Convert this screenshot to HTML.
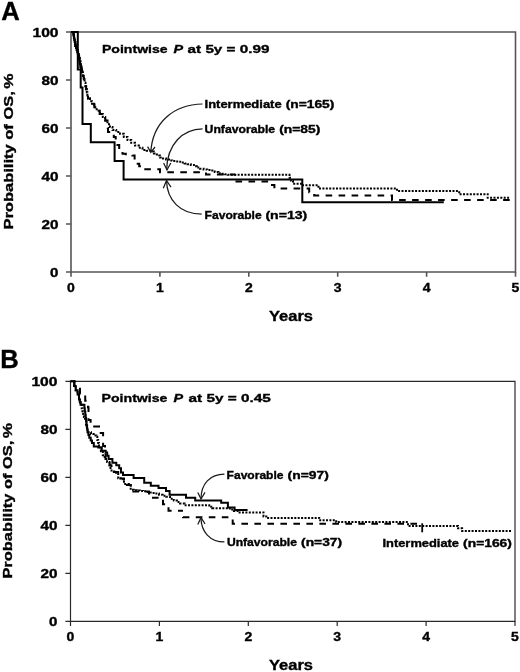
<!DOCTYPE html>
<html><head><meta charset="utf-8"><style>
html,body{margin:0;padding:0;background:#fff;}
svg{display:block;font-family:"Liberation Sans", sans-serif;font-weight:bold;fill:#000;will-change:transform;}
text{stroke:#000;stroke-width:0.35px;}
</style></head><body>
<svg width="520" height="672" viewBox="0 0 520 672">
<rect width="520" height="672" fill="#fff"/>
<g transform="translate(0,0)">
<text x="1.2" y="20.2" font-size="25.6" text-anchor="start">A</text>
<path d="M71.0 32.0 H515.5 V272.0 H71.0 Z" fill="none" stroke="#555" stroke-width="1.6"/>
<path d="M66.0 272.0 H71.0 M66.0 224.0 H71.0 M66.0 176.0 H71.0 M66.0 128.0 H71.0 M66.0 80.0 H71.0 M66.0 32.0 H71.0 M71.0 272.0 V276.8 M159.9 272.0 V276.8 M248.8 272.0 V276.8 M337.7 272.0 V276.8 M426.6 272.0 V276.8 M515.5 272.0 V276.8" stroke="#555" stroke-width="1.6" fill="none"/>
<text x="50.1" y="277.2" font-size="12.0" text-anchor="start" textLength="8.4" lengthAdjust="spacingAndGlyphs">0</text>
<text x="41.5" y="229.2" font-size="12.0" text-anchor="start" textLength="17.0" lengthAdjust="spacingAndGlyphs">20</text>
<text x="41.5" y="181.2" font-size="12.0" text-anchor="start" textLength="17.0" lengthAdjust="spacingAndGlyphs">40</text>
<text x="41.5" y="133.2" font-size="12.0" text-anchor="start" textLength="17.0" lengthAdjust="spacingAndGlyphs">60</text>
<text x="41.5" y="85.2" font-size="12.0" text-anchor="start" textLength="17.0" lengthAdjust="spacingAndGlyphs">80</text>
<text x="32.5" y="37.2" font-size="12.0" text-anchor="start" textLength="26.0" lengthAdjust="spacingAndGlyphs">100</text>
<text x="67.1" y="291.6" font-size="12.0" text-anchor="start" textLength="7.8" lengthAdjust="spacingAndGlyphs">0</text>
<text x="156.0" y="291.6" font-size="12.0" text-anchor="start" textLength="7.8" lengthAdjust="spacingAndGlyphs">1</text>
<text x="244.9" y="291.6" font-size="12.0" text-anchor="start" textLength="7.8" lengthAdjust="spacingAndGlyphs">2</text>
<text x="333.8" y="291.6" font-size="12.0" text-anchor="start" textLength="7.8" lengthAdjust="spacingAndGlyphs">3</text>
<text x="422.7" y="291.6" font-size="12.0" text-anchor="start" textLength="7.8" lengthAdjust="spacingAndGlyphs">4</text>
<text x="511.6" y="291.6" font-size="12.0" text-anchor="start" textLength="7.8" lengthAdjust="spacingAndGlyphs">5</text>
<text x="269.0" y="320.9" font-size="14.6" text-anchor="start" textLength="44.0" lengthAdjust="spacingAndGlyphs">Years</text>
<text transform="translate(12.7,229.6) rotate(-90)" x="0" y="0" font-size="13.2" textLength="138.4" lengthAdjust="spacingAndGlyphs">Probability of OS,</text>
<text transform="translate(12.7,88.8) rotate(-90)" x="0" y="0" font-size="13.2" textLength="15.2" lengthAdjust="spacingAndGlyphs">%</text>
<text x="102.0" y="53.2" font-size="11.8" text-anchor="start" textLength="65.6" lengthAdjust="spacingAndGlyphs">Pointwise</text><text x="173.6" y="53.2" font-size="11.8" text-anchor="start" textLength="9.6" lengthAdjust="spacingAndGlyphs" font-style="italic">P</text><text x="187.6" y="53.2" font-size="11.8" text-anchor="start" textLength="81.8" lengthAdjust="spacingAndGlyphs">at 5y = 0.99</text>
<path d="M71.0 32.0 H73.2 H73.5 V34.0 H73.7 V36.0 H74.0 V38.0 H74.3 V40.0 H74.7 V41.9 H75.1 V43.8 H75.4 V45.8 H76.1 V47.9 H76.7 V50.0 H77.3 V52.1 H78.0 V54.2 H78.5 V56.6 H79.1 V59.1 H79.6 V61.5 H80.1 V64.1 H80.6 V66.7 H81.1 V68.8 H81.7 V70.9 H82.2 V73.0" fill="none" stroke="#000" stroke-width="2.2"/><path d="M71.0 32.0 H77.8 V69.4 H80.7 V87.5 H82.5 V124.0 H90.8 V142.3 H114.6 V161.0 H123.6 V179.4 H302.3 V202.2 H443.8" fill="none" stroke="#000" stroke-width="2"/><path d="M71.0 32.0 H73.2 H73.6 V35.0 H74.0 V38.0 H74.7 V41.9 H75.4 V45.8 H76.7 V50.0 H78.0 V54.2 H78.8 V57.9 H79.6 V61.5 H80.6 V66.7 H81.3 V69.5 H82.0 V72.3 H82.9 V75.8 H83.8 V79.2 H84.6 V82.7 H85.5 V86.2 H86.1 V89.3 H86.8 V92.3 H87.4 V95.4 H88.0 V98.5 H90.0 V101.2 H92.0 V103.8 H94.3 V107.3 H96.7 V110.8 H99.8 V113.9 H102.8 V117.0 H105.2 V120.6 H107.5 V124.2 H107.8 V128.1 H108.0 V131.9 H110.9 V134.4 H113.8 V136.9 H115.7 V140.9 H117.5 V145.0 H119.2 V147.9 H120.8 V150.9 H122.5 V153.8 H125.8 V154.3 H129.0 V154.9 H132.3 V155.4 H134.6 V158.5 H136.1 V161.2 H137.7 V163.8 H139.2 V166.2 H143.0 V169.2 H160.0 V172.2 H206.0 V174.6 H235.2" fill="none" stroke="#000" stroke-width="2" stroke-dasharray="6.6 6.4" stroke-dashoffset="-2.5"/><path d="M235.2 174.6 V181.6 H270 V185.1 H274.4 V188.5 H309.2 V192.3 H314.2 V195.5 H392 V200 H511.5" fill="none" stroke="#000" stroke-width="2" stroke-dasharray="6.6 6.4" stroke-dashoffset="5.70"/><path d="M71.0 32.0 H73.2 H73.6 V35.0 H74.0 V38.0 H74.7 V41.9 H75.4 V45.8 H76.7 V50.0 H78.0 V54.2 H78.8 V57.9 H79.6 V61.5 H80.6 V66.7 H81.3 V69.5 H82.0 V72.3 H82.9 V75.8 H83.8 V79.2 H84.6 V82.7 H85.5 V86.2 H86.1 V89.3 H86.8 V92.3 H87.4 V95.4 H88.0 V98.5 H90.0 V101.2 H92.0 V103.8 H94.3 V107.3 H96.7 V110.8 H99.8 V113.9 H102.8 V117.0 H105.2 V120.6 H107.5 V124.2 H110.0 V127.1 H112.5 V130.0 H116.2 V131.9 H120.0 V133.8 H123.8 V136.9 H127.5 V140.0 H131.2 V142.8 H135.0 V145.6 H138.8 V147.8 H142.5 V150.0 H146.7 V150.8 H150.8 V151.5 H153.9 V153.5 H156.9 V155.5 H160.0 V157.5 H163.0 V158.5 H166.0 V159.5 H169.0 V160.5 H172.2 V160.9 H175.3 V161.4 H178.5 V161.8 H181.6 V162.6 H184.7 V163.4 H187.7 V164.2 H190.8 V165.0 H193.9 V166.3 H196.9 V167.5 H200.0 V168.8 H203.6 V169.4 H207.2 V169.9 H210.8 V170.5 H214.7 V171.9 H218.5 V173.3 H221.6 V173.8 H224.6 V174.3 H227.7 V174.8 H287.7 H289.5 V177.8 H291.2 V180.8 H293.0 V183.8 H303.0 V185.2 H318.5 V188.6 H397.0 V191.1 H455.4 H459.2 V194.2 H487.7 V197.7 H510.0" fill="none" stroke="#000" stroke-width="2" stroke-dasharray="2 1.4"/>
<path d="M202.5 104 C174 104.5 152.5 122 150.8 152.3" fill="none" stroke="#1a1a1a" stroke-width="1.25"/><path d="M147.6 146.6 L150.8 152.3 L155.0 147.0" fill="none" stroke="#1a1a1a" stroke-width="1.25"/><path d="M202.5 128.8 C183 129 167 144 166.6 170" fill="none" stroke="#1a1a1a" stroke-width="1.25"/><path d="M163.6 163.0 L167 170 L170.8 163.0" fill="none" stroke="#1a1a1a" stroke-width="1.25"/><path d="M201.7 214.2 C180 214 167 200 166.5 180.5" fill="none" stroke="#1a1a1a" stroke-width="1.25"/><path d="M163.3 188.2 L166.5 180.5 L171.0 187.2" fill="none" stroke="#1a1a1a" stroke-width="1.25"/>
<text x="204.6" y="107.8" font-size="10.5" text-anchor="start" textLength="77.0" lengthAdjust="spacingAndGlyphs">Intermediate</text><text x="285.7" y="107.8" font-size="10.5" text-anchor="start" textLength="48.6" lengthAdjust="spacingAndGlyphs">(n=165)</text><text x="204.6" y="132.9" font-size="10.5" text-anchor="start" textLength="70.5" lengthAdjust="spacingAndGlyphs">Unfavorable</text><text x="279.2" y="132.9" font-size="10.5" text-anchor="start" textLength="41.2" lengthAdjust="spacingAndGlyphs">(n=85)</text><text x="204.6" y="219.0" font-size="10.5" text-anchor="start" textLength="57.0" lengthAdjust="spacingAndGlyphs">Favorable</text><text x="265.4" y="219.0" font-size="10.5" text-anchor="start" textLength="41.9" lengthAdjust="spacingAndGlyphs">(n=13)</text>
</g>
<g transform="translate(0,349.3)">
<text x="0.2" y="18.3" font-size="25.6" text-anchor="start">B</text>
<path d="M70.5 32.0 H515.0 V272.0 H70.5 Z" fill="none" stroke="#2a2a2a" stroke-width="1.2"/>
<path d="M65.4 272.0 H70.5 M65.4 224.0 H70.5 M65.4 176.0 H70.5 M65.4 128.0 H70.5 M65.4 80.0 H70.5 M65.4 32.0 H70.5 M70.5 272.0 V276.8 M159.4 272.0 V276.8 M248.3 272.0 V276.8 M337.2 272.0 V276.8 M426.1 272.0 V276.8 M515.0 272.0 V276.8" stroke="#2a2a2a" stroke-width="1.2" fill="none"/>
<text x="49.0" y="277.0" font-size="12.0" text-anchor="start" textLength="8.4" lengthAdjust="spacingAndGlyphs">0</text>
<text x="40.4" y="229.0" font-size="12.0" text-anchor="start" textLength="17.0" lengthAdjust="spacingAndGlyphs">20</text>
<text x="40.4" y="181.0" font-size="12.0" text-anchor="start" textLength="17.0" lengthAdjust="spacingAndGlyphs">40</text>
<text x="40.4" y="133.0" font-size="12.0" text-anchor="start" textLength="17.0" lengthAdjust="spacingAndGlyphs">60</text>
<text x="40.4" y="85.0" font-size="12.0" text-anchor="start" textLength="17.0" lengthAdjust="spacingAndGlyphs">80</text>
<text x="31.4" y="37.0" font-size="12.0" text-anchor="start" textLength="26.0" lengthAdjust="spacingAndGlyphs">100</text>
<text x="66.6" y="291.6" font-size="12.0" text-anchor="start" textLength="7.8" lengthAdjust="spacingAndGlyphs">0</text>
<text x="155.5" y="291.6" font-size="12.0" text-anchor="start" textLength="7.8" lengthAdjust="spacingAndGlyphs">1</text>
<text x="244.4" y="291.6" font-size="12.0" text-anchor="start" textLength="7.8" lengthAdjust="spacingAndGlyphs">2</text>
<text x="333.3" y="291.6" font-size="12.0" text-anchor="start" textLength="7.8" lengthAdjust="spacingAndGlyphs">3</text>
<text x="422.2" y="291.6" font-size="12.0" text-anchor="start" textLength="7.8" lengthAdjust="spacingAndGlyphs">4</text>
<text x="511.1" y="291.6" font-size="12.0" text-anchor="start" textLength="7.8" lengthAdjust="spacingAndGlyphs">5</text>
<text x="269.0" y="320.9" font-size="14.6" text-anchor="start" textLength="44.0" lengthAdjust="spacingAndGlyphs">Years</text>
<text transform="translate(11.8,229.3) rotate(-90)" x="0" y="0" font-size="13.2" textLength="137.9" lengthAdjust="spacingAndGlyphs">Probability of OS,</text>
<text transform="translate(11.8,89.0) rotate(-90)" x="0" y="0" font-size="13.2" textLength="15.2" lengthAdjust="spacingAndGlyphs">%</text>
<text x="101.6" y="53.0" font-size="11.8" text-anchor="start" textLength="65.8" lengthAdjust="spacingAndGlyphs">Pointwise</text><text x="173.6" y="53.0" font-size="11.8" text-anchor="start" textLength="9.6" lengthAdjust="spacingAndGlyphs" font-style="italic">P</text><text x="188.6" y="53.0" font-size="11.8" text-anchor="start" textLength="82.2" lengthAdjust="spacingAndGlyphs">at 5y = 0.45</text>
<path d="M70.5 32.0 H72.8 H74.3 V36.7 H75.7 V41.0 H77.6 V45.3 H79.0 V50.1 H79.8 V52.8 H80.5 V55.5 H83.9 H84.4 V58.9 H84.8 V62.2 H85.3 V65.6 H85.7 V68.9 H86.2 V72.3 H86.6 V75.9 H87.1 V79.4 H87.5 V83.0 H88.4 V85.7 H89.3 V88.4 H90.7 V91.1 H92.0 V93.7 H93.8 V97.3 H98.2 V98.2 H101.8 V101.5 H105.7 V103.3 H107.2 V106.5 H108.6 V109.7 H112.4 V113.5 H116.3 V116.0 H119.2 V118.9 H121.0 V123.3 H123.0 V125.8 H133.6 V128.6 H144.2 V133.5 H150.8 V136.5 H158.5 V138.7 H166.0 V141.8 H169.6 V145.5 H186.0 V148.5 H195.2 V151.1 H221.2 V153.5 H227.9 V158.3 H234.6 V160.6 H247.6" fill="none" stroke="#000" stroke-width="2"/><path d="M70.5 32.0 H74.3 V38.1 H80.0 V44.5 H85.2 V51.5 H88.0 V57.9 H88.5 V64.4 V70.8 H90.6 V77.3 H99.0 V83.8 H103.1 V90.3 V96.8 H105.0 V103.2 H105.5 V109.7 H109.5 V116.2 H111.5 V122.6 H118.2 V129.1 H124.0 V135.6 H130.7 V142.1 H149.0 V148.5 H163.0 V155.0 H168.5 V161.5 H183.0" fill="none" stroke="#000" stroke-width="2" stroke-dasharray="6.6 6.4" stroke-dashoffset="-3"/><path d="M183.0 161.5 V168.0 H232.7 V174.4 H421.9" fill="none" stroke="#000" stroke-width="2" stroke-dasharray="6.6 6.4" stroke-dashoffset="6.70"/><path d="M70.5 32.0 H72.8 H74.3 V36.7 H75.7 V41.0 H77.6 V45.3 H79.0 V50.1 H79.8 V52.8 H80.5 V55.5 H81.7 V58.9 H82.4 V61.9 H83.2 V64.8 H83.9 V67.8 H85.0 V71.7 H86.0 V75.5 H86.8 V79.2 H87.5 V83.0 H91.0 V84.8 H93.7 V86.2 H96.4 V87.5 H97.3 V90.6 H98.2 V93.7 H99.0 V98.2 H100.9 V102.0 H102.8 V105.9 H104.7 V109.7 H107.1 V112.6 H109.5 V115.5 H110.5 V118.8 H111.5 V122.2 H114.3 V123.4 H117.2 V124.6 H118.2 V129.0 H122.0 V129.9 H124.0 V134.7 H128.8 V135.7 H130.7 V140.5 H133.8 V140.9 H136.8 V141.2 H139.9 V141.6 H143.0 V142.0 H146.1 V142.6 H149.2 V143.2 H152.3 V143.7 H155.4 V144.3 H159.0 V145.4 H162.6 V146.4 H166.2 V147.5 H170.0 V149.4 H173.8 V151.3 H176.9 V152.8 H180.0 V154.3 H184.6 V155.9 H206.2 H209.2 V157.4 H212.3 V158.9 H225.8 H229.9 V160.3 H233.9 V161.7 H238.0 V163.1 H260.6 H263.5 V167.1 H266.3 V168.6 H319.2 V170.9 H336.2 V172.7 H408.0 V176.7 H453.0 H458.0 V179.0 H462.1 V181.7 H512.0" fill="none" stroke="#000" stroke-width="2" stroke-dasharray="2 1.4"/>
<path d="M422.2 174.0 V183.0" stroke="#000" stroke-width="1.8"/><path d="M224.4 124.89999999999998 C210 124.89999999999998 201 134.5 201 149.7" fill="none" stroke="#1a1a1a" stroke-width="1.25"/><path d="M197.8 143.10000000000002 L201 149.7 L205.0 143.10000000000002" fill="none" stroke="#1a1a1a" stroke-width="1.25"/><path d="M224.4 192.70000000000005 C210 192.70000000000005 201 182.5 201 168.20000000000005" fill="none" stroke="#1a1a1a" stroke-width="1.25"/><path d="M197.8 175.29999999999995 L201 168.20000000000005 L205.0 174.5" fill="none" stroke="#1a1a1a" stroke-width="1.25"/>
<text x="226.6" y="129.7" font-size="10.5" text-anchor="start" textLength="56.9" lengthAdjust="spacingAndGlyphs">Favorable</text><text x="287.6" y="129.7" font-size="10.5" text-anchor="start" textLength="41.2" lengthAdjust="spacingAndGlyphs">(n=97)</text><text x="226.9" y="197.20000000000005" font-size="10.5" text-anchor="start" textLength="70.1" lengthAdjust="spacingAndGlyphs">Unfavorable</text><text x="301.1" y="197.20000000000005" font-size="10.5" text-anchor="start" textLength="41.0" lengthAdjust="spacingAndGlyphs">(n=37)</text><text x="382.5" y="198.10000000000002" font-size="10.5" text-anchor="start" textLength="76.5" lengthAdjust="spacingAndGlyphs">Intermediate</text><text x="463.1" y="198.10000000000002" font-size="10.5" text-anchor="start" textLength="48.8" lengthAdjust="spacingAndGlyphs">(n=166)</text>
</g>
</svg>
</body></html>
